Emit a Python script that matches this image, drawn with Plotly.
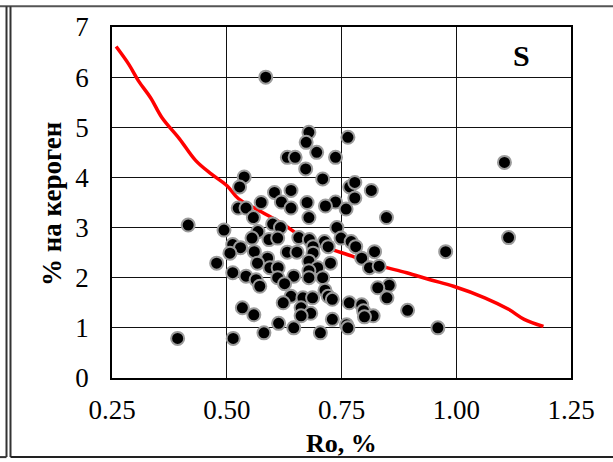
import plotly.graph_objects as go

# Scatter data: Ro (%) vs % на кероген
ro = [0.585, 0.679, 0.673, 0.764, 0.696, 0.632, 0.649, 0.737, 0.672, 1.105,
      0.538, 0.709, 0.528, 0.640, 0.604, 0.768, 0.779, 0.815, 0.619, 0.575,
      0.675, 0.737, 0.779, 0.640, 0.715, 0.525, 0.542, 0.760, 0.848, 0.679,
      0.558, 0.416, 0.494, 0.600, 0.617, 0.740, 1.114, 0.977, 0.568, 0.555,
      0.592, 0.611, 0.657, 0.680, 0.713, 0.749, 0.771, 0.781, 0.513, 0.530,
      0.721, 0.688, 0.822, 0.507, 0.560, 0.632, 0.653, 0.688, 0.589, 0.478,
      0.567, 0.679, 0.726, 0.794, 0.811, 0.832, 0.594, 0.612, 0.513, 0.542,
      0.698, 0.679, 0.564, 0.611, 0.646, 0.679, 0.709, 0.626, 0.572, 0.854,
      0.829, 0.714, 0.640, 0.666, 0.687, 0.721, 0.730, 0.623, 0.767, 0.849,
      0.794, 0.534, 0.662, 0.798, 0.894, 0.683, 0.559, 0.662, 0.819, 0.800,
      0.730, 0.613, 0.646, 0.761, 0.764, 0.960, 0.581, 0.704, 0.393, 0.514]
kerogen = [6.00, 4.90, 4.70, 4.80, 4.50, 4.40, 4.40, 4.40, 4.17, 4.30,
           4.01, 3.97, 3.81, 3.74, 3.70, 3.81, 3.90, 3.74, 3.51, 3.50,
           3.50, 3.51, 3.59, 3.39, 3.43, 3.39, 3.39, 3.37, 3.20, 3.20,
           3.20, 3.05, 2.95, 3.07, 3.00, 3.00, 2.80, 2.52, 2.92, 2.79,
           2.76, 2.79, 2.80, 2.76, 2.72, 2.79, 2.72, 2.62, 2.66, 2.60,
           2.62, 2.62, 2.52, 2.49, 2.52, 2.51, 2.51, 2.49, 2.39, 2.29,
           2.29, 2.33, 2.29, 2.39, 2.20, 2.23, 2.20, 2.20, 2.10, 2.03,
           2.20, 2.14, 1.96, 2.00, 2.03, 2.00, 2.00, 1.88, 1.83, 1.85,
           1.80, 1.75, 1.63, 1.60, 1.60, 1.63, 1.57, 1.50, 1.50, 1.60,
           1.46, 1.40, 1.40, 1.34, 1.35, 1.29, 1.26, 1.24, 1.24, 1.22,
           1.17, 1.09, 1.00, 1.06, 1.00, 1.00, 0.90, 0.90, 0.79, 0.79]

# Trend curve (red)
curve_x = [0.259, 0.287, 0.308, 0.334, 0.359, 0.397, 0.432, 0.466, 0.500, 0.525,
           0.568, 0.619, 0.670, 0.721, 0.773, 0.824, 0.892, 0.943, 0.994, 1.062,
           1.114, 1.148, 1.190]
curve_y = [6.61, 6.25, 5.92, 5.59, 5.19, 4.77, 4.34, 4.07, 3.84, 3.58,
           3.35, 3.09, 2.78, 2.59, 2.43, 2.26, 2.10, 1.96, 1.83, 1.60,
           1.37, 1.17, 1.03]

x_ticks = [0.25, 0.50, 0.75, 1.00, 1.25]
x_tick_labels = ["0.25", "0.50", "0.75", "1.00", "1.25"]
y_ticks = [0, 1, 2, 3, 4, 5, 6, 7]

FONT = "'Times New Roman', 'Liberation Serif', serif"

fig = go.Figure()
fig.add_trace(go.Scatter(
    x=curve_x, y=curve_y, mode="lines", line=dict(color="#ff0000", width=3.5, shape="spline"),
    showlegend=False, hoverinfo="skip"))
fig.add_trace(go.Scatter(
    x=ro, y=kerogen, mode="markers",
    marker=dict(color="black", size=13, line=dict(color="#9c9c9c", width=2)),
    showlegend=False))

W, H = 613, 462
L, R, T, B = 112, 42, 23, 84
pw, ph = W - L - R, H - T - B

def px(x):
    return (x - L) / pw

def py(y):
    return (H - B - y) / ph

fig.update_layout(
    width=W, height=H,
    margin=dict(l=L, r=R, t=T, b=B, pad=0),
    paper_bgcolor="white", plot_bgcolor="white",
    font=dict(family=FONT, color="black", size=26),
    xaxis=dict(range=[0.25, 1.25], tickvals=x_ticks, ticktext=x_tick_labels,
               showgrid=True, gridcolor="#111", gridwidth=1, zeroline=False,
               showline=True, linecolor="black", linewidth=1.5, mirror=True,
               ticks="", ticklabelstandoff=7, tickfont=dict(size=27, family=FONT)),
    yaxis=dict(range=[0, 7], tickvals=y_ticks,
               showgrid=True, gridcolor="#111", gridwidth=1, zeroline=False,
               showline=True, linecolor="black", linewidth=1.5, mirror=True,
               ticks="", ticklabelstandoff=16, tickfont=dict(size=27, family=FONT)),
    annotations=[
        dict(text="<b>Ro, %</b>", x=px(341), y=py(444), xref="paper", yref="paper",
             showarrow=False, font=dict(size=26, family=FONT), xanchor="center", yanchor="middle"),
        dict(text="<b>% на кероген</b>", x=px(52), y=py(202), xref="paper", yref="paper",
             showarrow=False, textangle=-90, font=dict(size=27, family=FONT),
             xanchor="center", yanchor="middle"),
        dict(text="<b>S</b>", x=px(521), y=py(52), xref="paper", yref="paper",
             showarrow=False, font=dict(size=30, family=FONT), xanchor="center", yanchor="middle"),
    ],
    shapes=[
        dict(type="line", xref="paper", yref="paper", x0=px(0), x1=px(W), y0=py(2), y1=py(2),
             line=dict(color="#555", width=2)),
        dict(type="line", xref="paper", yref="paper", x0=px(6.5), x1=px(6.5), y0=py(2), y1=py(458),
             line=dict(color="#333", width=2)),
        dict(type="line", xref="paper", yref="paper", x0=px(10.5), x1=px(10.5), y0=py(2), y1=py(458),
             line=dict(color="#333", width=2)),
        dict(type="line", xref="paper", yref="paper", x0=px(10.5), x1=px(W), y0=py(458), y1=py(458),
             line=dict(color="#222", width=2)),
        dict(type="line", xref="paper", yref="paper", x0=px(0), x1=px(6.5), y0=py(458), y1=py(458),
             line=dict(color="#333", width=2)),
    ],
)

fig.write_html("out.html")
